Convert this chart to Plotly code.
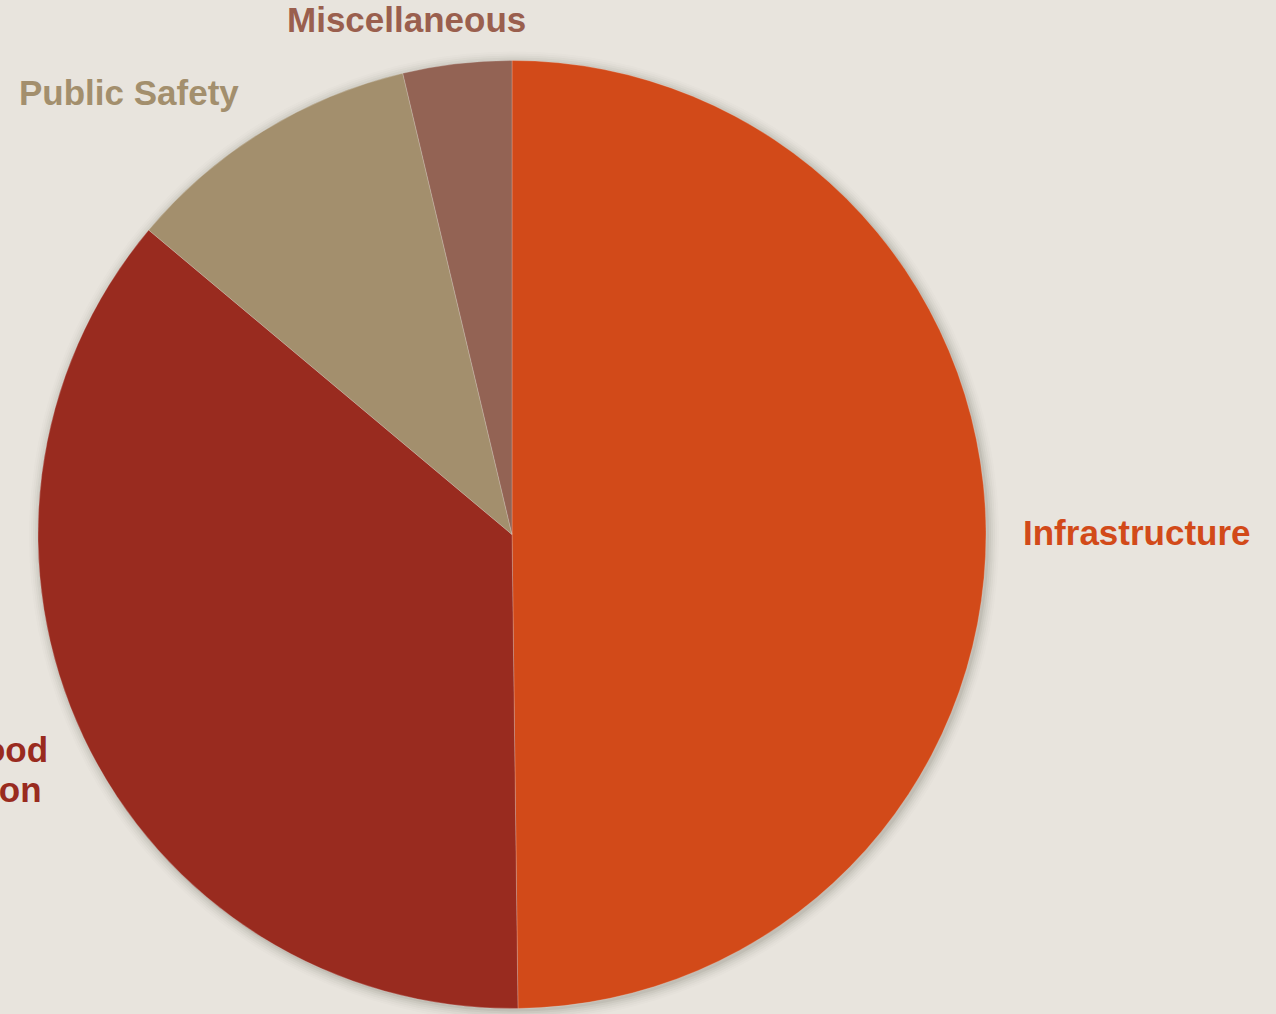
import plotly.graph_objects as go

categories = ["Infrastructure", "Neighborhood<br>Revitalization", "Public Safety", "Miscellaneous"]
values = [49.8, 36.3, 10.2, 3.7]
colors = ["#D24A19", "#992B1F", "#A38F6D", "#936354"]
label_colors = ["#D24A19", "#992B1F", "#A38F6D", "#9A5F4E"]

W, H = 1276, 1014
cx, cy, r = 512, 534.5, 474

def dom(cx, cy, r):
    return dict(x=[(cx - r) / W, (cx + r) / W], y=[1 - (cy + r) / H, 1 - (cy - r) / H])

fig = go.Figure()

# soft drop shadow drawn as translucent circles behind the pie
for k, a in [(11, 0.015), (9, 0.02), (7, 0.03), (5, 0.04), (3, 0.05), (1, 0.07)]:
    sx, sy, sr = cx + 2, cy + 2, r + k
    fig.add_shape(
        type="circle", xref="paper", yref="paper", layer="below",
        x0=(sx - sr) / W, x1=(sx + sr) / W,
        y0=1 - (sy + sr) / H, y1=1 - (sy - sr) / H,
        fillcolor=f"rgba(60,50,40,{a})", line=dict(width=0),
    )

fig.add_trace(go.Pie(
    labels=categories, values=values, domain=dom(cx, cy, r),
    marker=dict(colors=colors, line=dict(color="rgba(255,255,255,0.2)", width=1)),
    direction="clockwise", rotation=0, sort=False,
    textinfo="none", showlegend=False,
))

# label anchor positions (pixels); each line of a label placed separately
label_pos = [[(1137, 532, "center")],
             [(50, 749, "right"), (44, 789, "right")],
             [(129, 92, "center")],
             [(406, 20, "center")]]
for lines_pos, txt, c in zip(label_pos, categories, label_colors):
    for (x, y, anc), line in zip(lines_pos, txt.split("<br>")):
        fig.add_annotation(
            x=x / W, y=1 - y / H, xref="paper", yref="paper", text=line,
            showarrow=False, xanchor=anc, yanchor="middle",
            font=dict(family="Liberation Sans, Arial, sans-serif", size=35, color=c, weight="bold"),
        )

fig.update_layout(
    width=W, height=H, margin=dict(l=0, r=0, t=0, b=0),
    paper_bgcolor="#E8E4DD", plot_bgcolor="#E8E4DD",
)

fig.write_html("out.html")
